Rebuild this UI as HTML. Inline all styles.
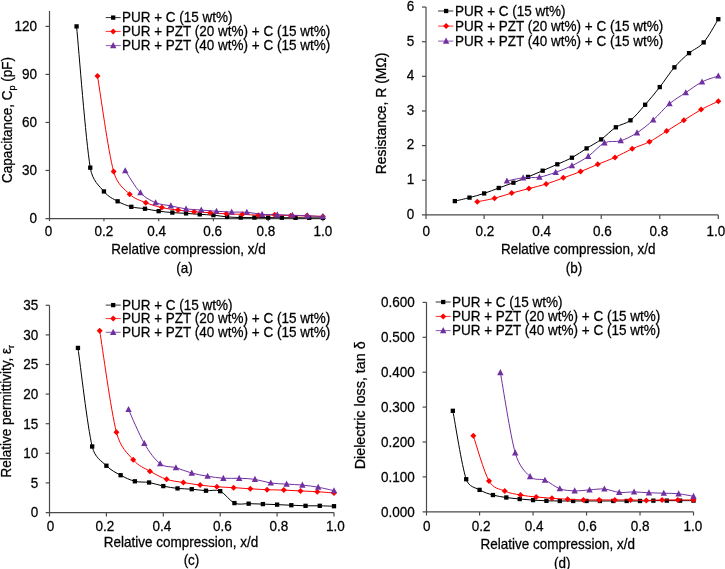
<!DOCTYPE html>
<html><head><meta charset="utf-8"><style>
html,body{margin:0;padding:0;background:#fff;width:725px;height:569px;overflow:hidden}
svg{display:block;will-change:transform;font-family:"Liberation Sans", sans-serif;font-size:13.5px;fill:#000}
text{stroke:#000;stroke-width:0.25px}
</style></head><body>
<svg width="725" height="569" viewBox="0 0 725 569">
<rect width="725" height="569" fill="#fff"/>
<g><path d="M49.50,11.00V221.20" stroke="#4a4a4a" stroke-width="1.2" fill="none"/>
<path d="M45.50,218.70H322.90" stroke="#4a4a4a" stroke-width="1.2" fill="none"/>
<text transform="translate(37.10,223.30) scale(1,1.060)" text-anchor="end">0</text>
<path d="M45.50,170.47H49.50" stroke="#4a4a4a" stroke-width="1.2"/>
<text transform="translate(37.10,175.28) scale(1,1.060)" text-anchor="end">30</text>
<path d="M45.50,122.45H49.50" stroke="#4a4a4a" stroke-width="1.2"/>
<text transform="translate(37.10,127.25) scale(1,1.060)" text-anchor="end">60</text>
<path d="M45.50,74.43H49.50" stroke="#4a4a4a" stroke-width="1.2"/>
<text transform="translate(37.10,79.23) scale(1,1.060)" text-anchor="end">90</text>
<path d="M45.50,26.40H49.50" stroke="#4a4a4a" stroke-width="1.2"/>
<text transform="translate(37.10,31.20) scale(1,1.060)" text-anchor="end">120</text>
<text transform="translate(48.50,235.50) scale(1,1.060)" text-anchor="middle">0</text>
<path d="M103.94,218.70V221.20" stroke="#4a4a4a" stroke-width="1.2"/>
<text transform="translate(103.94,235.50) scale(1,1.060)" text-anchor="middle">0.2</text>
<path d="M158.68,218.70V221.20" stroke="#4a4a4a" stroke-width="1.2"/>
<text transform="translate(156.68,235.50) scale(1,1.060)" text-anchor="middle">0.4</text>
<path d="M213.42,218.70V221.20" stroke="#4a4a4a" stroke-width="1.2"/>
<text transform="translate(212.72,235.50) scale(1,1.060)" text-anchor="middle">0.6</text>
<path d="M268.16,218.70V221.20" stroke="#4a4a4a" stroke-width="1.2"/>
<text transform="translate(265.96,235.50) scale(1,1.060)" text-anchor="middle">0.8</text>
<path d="M322.90,218.70V221.20" stroke="#4a4a4a" stroke-width="1.2"/>
<text transform="translate(322.90,235.50) scale(1,1.060)" text-anchor="middle">1.0</text>
<path d="M76.57,26.40 C78.85,49.95 85.69,140.17 90.26,167.67 C92.50,181.20 99.38,185.84 103.94,191.45 C108.50,197.05 113.06,198.73 117.62,201.29 C122.19,203.85 126.75,205.57 131.31,206.81 C135.87,208.05 140.43,208.01 145.00,208.73 C149.56,209.46 154.12,210.50 158.68,211.14 C163.24,211.78 167.80,212.20 172.37,212.58 C176.93,212.95 181.49,213.08 186.05,213.38 C190.61,213.67 195.17,214.04 199.74,214.34 C204.30,214.63 208.86,214.71 213.42,215.14 C217.98,215.57 222.54,216.50 227.11,216.90 C231.67,217.30 236.23,217.43 240.79,217.54 C245.35,217.65 249.91,217.53 254.47,217.54 C259.04,217.55 263.60,217.59 268.16,217.62 C272.72,217.65 277.28,217.67 281.84,217.70 C286.41,217.73 290.97,217.75 295.53,217.78 C300.09,217.81 304.65,217.85 309.21,217.86 C313.78,217.87 320.62,217.86 322.90,217.86" stroke="#000000" stroke-width="1.0" fill="none"/>
<rect x="74.42" y="24.25" width="4.30" height="4.30" fill="#000000"/>
<rect x="88.11" y="165.52" width="4.30" height="4.30" fill="#000000"/>
<rect x="101.79" y="189.30" width="4.30" height="4.30" fill="#000000"/>
<rect x="115.47" y="199.14" width="4.30" height="4.30" fill="#000000"/>
<rect x="129.16" y="204.66" width="4.30" height="4.30" fill="#000000"/>
<rect x="142.84" y="206.58" width="4.30" height="4.30" fill="#000000"/>
<rect x="156.53" y="208.99" width="4.30" height="4.30" fill="#000000"/>
<rect x="170.22" y="210.43" width="4.30" height="4.30" fill="#000000"/>
<rect x="183.90" y="211.23" width="4.30" height="4.30" fill="#000000"/>
<rect x="197.59" y="212.19" width="4.30" height="4.30" fill="#000000"/>
<rect x="211.27" y="212.99" width="4.30" height="4.30" fill="#000000"/>
<rect x="224.96" y="214.75" width="4.30" height="4.30" fill="#000000"/>
<rect x="238.64" y="215.39" width="4.30" height="4.30" fill="#000000"/>
<rect x="252.32" y="215.39" width="4.30" height="4.30" fill="#000000"/>
<rect x="266.01" y="215.47" width="4.30" height="4.30" fill="#000000"/>
<rect x="279.69" y="215.55" width="4.30" height="4.30" fill="#000000"/>
<rect x="293.38" y="215.63" width="4.30" height="4.30" fill="#000000"/>
<rect x="307.06" y="215.71" width="4.30" height="4.30" fill="#000000"/>
<rect x="320.75" y="215.71" width="4.30" height="4.30" fill="#000000"/>
<path d="M97.50,76.03 C100.18,91.93 108.23,151.75 113.60,171.44 C117.26,184.87 124.33,188.96 129.70,194.17 C135.07,199.37 140.43,200.41 145.80,202.65 C151.17,204.89 156.53,206.37 161.90,207.61 C167.27,208.85 172.63,209.42 178.00,210.10 C183.37,210.78 188.73,211.26 194.10,211.70 C199.47,212.14 204.83,212.38 210.20,212.74 C215.57,213.10 220.93,213.59 226.30,213.86 C231.67,214.12 237.03,214.12 242.40,214.34 C247.77,214.55 253.13,215.06 258.50,215.14 C263.87,215.22 269.23,214.72 274.60,214.82 C279.97,214.91 285.33,215.53 290.70,215.70 C296.07,215.87 301.43,215.73 306.80,215.86 C312.17,215.99 320.22,216.39 322.90,216.50" stroke="#FF0000" stroke-width="1.0" fill="none"/>
<path d="M97.50,73.03L100.50,76.03L97.50,79.03L94.50,76.03Z" fill="#FF0000"/>
<path d="M113.60,168.44L116.60,171.44L113.60,174.44L110.60,171.44Z" fill="#FF0000"/>
<path d="M129.70,191.17L132.70,194.17L129.70,197.17L126.70,194.17Z" fill="#FF0000"/>
<path d="M145.80,199.65L148.80,202.65L145.80,205.65L142.80,202.65Z" fill="#FF0000"/>
<path d="M161.90,204.61L164.90,207.61L161.90,210.61L158.90,207.61Z" fill="#FF0000"/>
<path d="M178.00,207.10L181.00,210.10L178.00,213.10L175.00,210.10Z" fill="#FF0000"/>
<path d="M194.10,208.70L197.10,211.70L194.10,214.70L191.10,211.70Z" fill="#FF0000"/>
<path d="M210.20,209.74L213.20,212.74L210.20,215.74L207.20,212.74Z" fill="#FF0000"/>
<path d="M226.30,210.86L229.30,213.86L226.30,216.86L223.30,213.86Z" fill="#FF0000"/>
<path d="M242.40,211.34L245.40,214.34L242.40,217.34L239.40,214.34Z" fill="#FF0000"/>
<path d="M258.50,212.14L261.50,215.14L258.50,218.14L255.50,215.14Z" fill="#FF0000"/>
<path d="M274.60,211.82L277.60,214.82L274.60,217.82L271.60,214.82Z" fill="#FF0000"/>
<path d="M290.70,212.70L293.70,215.70L290.70,218.70L287.70,215.70Z" fill="#FF0000"/>
<path d="M306.80,212.86L309.80,215.86L306.80,218.86L303.80,215.86Z" fill="#FF0000"/>
<path d="M322.90,213.50L325.90,216.50L322.90,219.50L319.90,216.50Z" fill="#FF0000"/>
<path d="M125.23,170.64 C127.76,174.32 135.36,187.39 140.43,192.73 C145.50,198.06 150.57,200.46 155.64,202.65 C160.71,204.84 165.78,204.81 170.84,205.85 C175.91,206.89 180.98,208.20 186.05,208.90 C191.12,209.59 196.19,209.62 201.26,210.02 C206.32,210.42 211.39,210.95 216.46,211.30 C221.53,211.64 226.60,211.94 231.67,212.10 C236.74,212.26 241.80,211.88 246.87,212.26 C251.94,212.63 257.01,213.91 262.08,214.34 C267.15,214.76 272.21,214.68 277.28,214.82 C282.35,214.95 287.42,214.96 292.49,215.14 C297.56,215.31 302.63,215.63 307.69,215.86 C312.76,216.09 320.37,216.39 322.90,216.50" stroke="#7030A0" stroke-width="1.0" fill="none"/>
<path d="M125.23,167.14L128.43,173.24L122.03,173.24Z" fill="#7030A0"/>
<path d="M140.43,189.23L143.63,195.33L137.23,195.33Z" fill="#7030A0"/>
<path d="M155.64,199.15L158.84,205.25L152.44,205.25Z" fill="#7030A0"/>
<path d="M170.84,202.35L174.04,208.45L167.64,208.45Z" fill="#7030A0"/>
<path d="M186.05,205.40L189.25,211.50L182.85,211.50Z" fill="#7030A0"/>
<path d="M201.26,206.52L204.46,212.62L198.06,212.62Z" fill="#7030A0"/>
<path d="M216.46,207.80L219.66,213.90L213.26,213.90Z" fill="#7030A0"/>
<path d="M231.67,208.60L234.87,214.70L228.47,214.70Z" fill="#7030A0"/>
<path d="M246.87,208.76L250.07,214.86L243.67,214.86Z" fill="#7030A0"/>
<path d="M262.08,210.84L265.28,216.94L258.88,216.94Z" fill="#7030A0"/>
<path d="M277.28,211.32L280.48,217.42L274.08,217.42Z" fill="#7030A0"/>
<path d="M292.49,211.64L295.69,217.74L289.29,217.74Z" fill="#7030A0"/>
<path d="M307.69,212.36L310.89,218.46L304.49,218.46Z" fill="#7030A0"/>
<path d="M322.90,213.00L326.10,219.10L319.70,219.10Z" fill="#7030A0"/>
<path d="M105.70,17.60H120.70" stroke="#000000" stroke-width="1.0" opacity="0.8"/>
<rect x="111.05" y="15.45" width="4.30" height="4.30" fill="#000000"/>
<text transform="translate(122.00,22.20) scale(1,1.060)" text-anchor="start">PUR + C (15 wt%)</text>
<path d="M105.70,31.40H120.70" stroke="#FF0000" stroke-width="1.0" opacity="0.8"/>
<path d="M113.20,28.40L116.20,31.40L113.20,34.40L110.20,31.40Z" fill="#FF0000"/>
<text transform="translate(122.00,36.00) scale(1,1.060)" text-anchor="start">PUR + PZT (20 wt%) + C (15 wt%)</text>
<path d="M105.70,45.60H120.70" stroke="#7030A0" stroke-width="1.0" opacity="0.8"/>
<path d="M113.20,42.10L116.40,48.20L110.00,48.20Z" fill="#7030A0"/>
<text transform="translate(122.00,50.20) scale(1,1.060)" text-anchor="start">PUR + PZT (40 wt%) + C (15 wt%)</text>
<text transform="translate(11.60,120.00) rotate(-90) scale(1.000,1.060)" text-anchor="middle"><tspan>Capacitance, C</tspan><tspan font-size="9" dy="3">p</tspan><tspan dy="-3"> (pF)</tspan></text>
<text transform="translate(188.50,254.10) scale(1,1.060)" text-anchor="middle">Relative compression, x/d</text>
<text transform="translate(184.50,272.50) scale(1,1.060)" text-anchor="middle">(a)</text></g>
<g><path d="M426.00,7.07V218.90" stroke="#4a4a4a" stroke-width="1.2" fill="none"/>
<path d="M422.00,214.90H718.30" stroke="#4a4a4a" stroke-width="1.2" fill="none"/>
<text transform="translate(414.30,218.70) scale(1,1.060)" text-anchor="end">0</text>
<path d="M422.00,180.26H426.00" stroke="#4a4a4a" stroke-width="1.2"/>
<text transform="translate(414.30,184.06) scale(1,1.060)" text-anchor="end">1</text>
<path d="M422.00,145.62H426.00" stroke="#4a4a4a" stroke-width="1.2"/>
<text transform="translate(414.30,149.42) scale(1,1.060)" text-anchor="end">2</text>
<path d="M422.00,110.98H426.00" stroke="#4a4a4a" stroke-width="1.2"/>
<text transform="translate(414.30,114.78) scale(1,1.060)" text-anchor="end">3</text>
<path d="M422.00,76.35H426.00" stroke="#4a4a4a" stroke-width="1.2"/>
<text transform="translate(414.30,80.15) scale(1,1.060)" text-anchor="end">4</text>
<path d="M422.00,41.71H426.00" stroke="#4a4a4a" stroke-width="1.2"/>
<text transform="translate(414.30,45.51) scale(1,1.060)" text-anchor="end">5</text>
<path d="M422.00,7.07H426.00" stroke="#4a4a4a" stroke-width="1.2"/>
<text transform="translate(414.30,10.87) scale(1,1.060)" text-anchor="end">6</text>
<text transform="translate(426.30,235.50) scale(1,1.060)" text-anchor="middle">0</text>
<path d="M484.14,214.90V218.90" stroke="#4a4a4a" stroke-width="1.2"/>
<text transform="translate(484.84,235.50) scale(1,1.060)" text-anchor="middle">0.2</text>
<path d="M542.68,214.90V218.90" stroke="#4a4a4a" stroke-width="1.2"/>
<text transform="translate(541.68,235.50) scale(1,1.060)" text-anchor="middle">0.4</text>
<path d="M601.22,214.90V218.90" stroke="#4a4a4a" stroke-width="1.2"/>
<text transform="translate(602.32,235.50) scale(1,1.060)" text-anchor="middle">0.6</text>
<path d="M659.76,214.90V218.90" stroke="#4a4a4a" stroke-width="1.2"/>
<text transform="translate(658.86,235.50) scale(1,1.060)" text-anchor="middle">0.8</text>
<path d="M718.30,214.90V218.90" stroke="#4a4a4a" stroke-width="1.2"/>
<text transform="translate(716.00,235.50) scale(1,1.060)" text-anchor="middle">1.0</text>
<path d="M454.87,201.11 C457.31,200.53 464.63,198.90 469.50,197.62 C474.38,196.33 479.26,195.03 484.14,193.42 C489.02,191.82 493.90,189.78 498.77,187.99 C503.65,186.20 508.53,184.53 513.41,182.69 C518.29,180.84 523.17,178.90 528.04,176.90 C532.92,174.90 537.80,172.80 542.68,170.70 C547.56,168.60 552.44,166.46 557.32,164.29 C562.19,162.13 567.07,160.36 571.95,157.71 C576.83,155.06 581.71,151.45 586.59,148.39 C591.46,145.34 596.34,142.91 601.22,139.39 C606.10,135.87 610.98,130.44 615.86,127.27 C620.73,124.09 625.61,124.09 630.49,120.34 C635.37,116.58 640.25,110.29 645.12,104.75 C650.00,99.21 654.88,93.32 659.76,87.08 C664.64,80.85 669.52,73.00 674.39,67.34 C679.27,61.68 684.15,57.30 689.03,53.14 C693.91,48.98 698.79,48.06 703.66,42.40 C708.54,36.74 715.86,23.06 718.30,19.19" stroke="#000000" stroke-width="1.0" fill="none"/>
<rect x="452.72" y="198.96" width="4.30" height="4.30" fill="#000000"/>
<rect x="467.36" y="195.47" width="4.30" height="4.30" fill="#000000"/>
<rect x="481.99" y="191.27" width="4.30" height="4.30" fill="#000000"/>
<rect x="496.62" y="185.84" width="4.30" height="4.30" fill="#000000"/>
<rect x="511.26" y="180.54" width="4.30" height="4.30" fill="#000000"/>
<rect x="525.89" y="174.75" width="4.30" height="4.30" fill="#000000"/>
<rect x="540.53" y="168.55" width="4.30" height="4.30" fill="#000000"/>
<rect x="555.17" y="162.14" width="4.30" height="4.30" fill="#000000"/>
<rect x="569.80" y="155.56" width="4.30" height="4.30" fill="#000000"/>
<rect x="584.44" y="146.24" width="4.30" height="4.30" fill="#000000"/>
<rect x="599.07" y="137.24" width="4.30" height="4.30" fill="#000000"/>
<rect x="613.71" y="125.12" width="4.30" height="4.30" fill="#000000"/>
<rect x="628.34" y="118.19" width="4.30" height="4.30" fill="#000000"/>
<rect x="642.98" y="102.60" width="4.30" height="4.30" fill="#000000"/>
<rect x="657.61" y="84.93" width="4.30" height="4.30" fill="#000000"/>
<rect x="672.25" y="65.19" width="4.30" height="4.30" fill="#000000"/>
<rect x="686.88" y="50.99" width="4.30" height="4.30" fill="#000000"/>
<rect x="701.51" y="40.25" width="4.30" height="4.30" fill="#000000"/>
<rect x="716.15" y="17.04" width="4.30" height="4.30" fill="#000000"/>
<path d="M477.25,201.74 C480.12,201.16 488.73,199.72 494.47,198.27 C500.21,196.83 505.95,194.69 511.69,193.08 C517.43,191.46 523.17,190.08 528.91,188.57 C534.65,187.07 540.38,185.86 546.12,184.07 C551.86,182.28 557.60,179.92 563.34,177.84 C569.08,175.76 574.82,173.85 580.56,171.60 C586.30,169.35 592.04,166.69 597.78,164.33 C603.52,161.96 609.25,160.00 614.99,157.40 C620.73,154.80 626.47,151.34 632.21,148.74 C637.95,146.14 643.69,144.76 649.43,141.81 C655.17,138.87 660.91,134.65 666.65,131.08 C672.39,127.50 678.13,123.92 683.86,120.34 C689.60,116.76 695.34,112.77 701.08,109.60 C706.82,106.42 715.43,102.67 718.30,101.29" stroke="#FF0000" stroke-width="1.0" fill="none"/>
<path d="M477.25,198.74L480.25,201.74L477.25,204.74L474.25,201.74Z" fill="#FF0000"/>
<path d="M494.47,195.27L497.47,198.27L494.47,201.27L491.47,198.27Z" fill="#FF0000"/>
<path d="M511.69,190.08L514.69,193.08L511.69,196.08L508.69,193.08Z" fill="#FF0000"/>
<path d="M528.91,185.57L531.91,188.57L528.91,191.57L525.91,188.57Z" fill="#FF0000"/>
<path d="M546.12,181.07L549.12,184.07L546.12,187.07L543.12,184.07Z" fill="#FF0000"/>
<path d="M563.34,174.84L566.34,177.84L563.34,180.84L560.34,177.84Z" fill="#FF0000"/>
<path d="M580.56,168.60L583.56,171.60L580.56,174.60L577.56,171.60Z" fill="#FF0000"/>
<path d="M597.78,161.33L600.78,164.33L597.78,167.33L594.78,164.33Z" fill="#FF0000"/>
<path d="M614.99,154.40L617.99,157.40L614.99,160.40L611.99,157.40Z" fill="#FF0000"/>
<path d="M632.21,145.74L635.21,148.74L632.21,151.74L629.21,148.74Z" fill="#FF0000"/>
<path d="M649.43,138.81L652.43,141.81L649.43,144.81L646.43,141.81Z" fill="#FF0000"/>
<path d="M666.65,128.08L669.65,131.08L666.65,134.08L663.65,131.08Z" fill="#FF0000"/>
<path d="M683.86,117.34L686.86,120.34L683.86,123.34L680.86,120.34Z" fill="#FF0000"/>
<path d="M701.08,106.60L704.08,109.60L701.08,112.60L698.08,109.60Z" fill="#FF0000"/>
<path d="M718.30,98.29L721.30,101.29L718.30,104.29L715.30,101.29Z" fill="#FF0000"/>
<path d="M506.91,180.95 C509.62,180.43 517.75,178.47 523.17,177.84 C528.59,177.20 534.01,178.07 539.43,177.14 C544.85,176.22 550.27,174.20 555.69,172.29 C561.11,170.39 566.53,168.37 571.95,165.71 C577.37,163.06 582.79,160.17 588.21,156.36 C593.63,152.55 599.05,145.45 604.47,142.85 C609.89,140.25 615.31,142.45 620.73,140.77 C626.15,139.10 631.57,136.27 636.99,132.81 C642.41,129.34 647.84,124.84 653.26,119.99 C658.68,115.14 664.10,108.27 669.52,103.71 C674.94,99.15 680.36,96.26 685.78,92.63 C691.20,88.99 696.62,84.66 702.04,81.89 C707.46,79.12 715.59,76.98 718.30,76.00" stroke="#7030A0" stroke-width="1.0" fill="none"/>
<path d="M506.91,177.45L510.11,183.55L503.71,183.55Z" fill="#7030A0"/>
<path d="M523.17,174.34L526.37,180.44L519.97,180.44Z" fill="#7030A0"/>
<path d="M539.43,173.64L542.63,179.74L536.23,179.74Z" fill="#7030A0"/>
<path d="M555.69,168.79L558.89,174.89L552.49,174.89Z" fill="#7030A0"/>
<path d="M571.95,162.21L575.15,168.31L568.75,168.31Z" fill="#7030A0"/>
<path d="M588.21,152.86L591.41,158.96L585.01,158.96Z" fill="#7030A0"/>
<path d="M604.47,139.35L607.67,145.45L601.27,145.45Z" fill="#7030A0"/>
<path d="M620.73,137.27L623.93,143.37L617.53,143.37Z" fill="#7030A0"/>
<path d="M636.99,129.31L640.19,135.41L633.79,135.41Z" fill="#7030A0"/>
<path d="M653.26,116.49L656.46,122.59L650.06,122.59Z" fill="#7030A0"/>
<path d="M669.52,100.21L672.72,106.31L666.32,106.31Z" fill="#7030A0"/>
<path d="M685.78,89.13L688.98,95.23L682.58,95.23Z" fill="#7030A0"/>
<path d="M702.04,78.39L705.24,84.49L698.84,84.49Z" fill="#7030A0"/>
<path d="M718.30,72.50L721.50,78.60L715.10,78.60Z" fill="#7030A0"/>
<path d="M438.10,11.00H453.30" stroke="#000000" stroke-width="1.0" opacity="0.8"/>
<rect x="443.95" y="8.85" width="4.30" height="4.30" fill="#000000"/>
<text transform="translate(454.90,15.60) scale(1,1.060)" text-anchor="start">PUR + C (15 wt%)</text>
<path d="M438.10,26.10H453.30" stroke="#FF0000" stroke-width="1.0" opacity="0.8"/>
<path d="M446.10,23.10L449.10,26.10L446.10,29.10L443.10,26.10Z" fill="#FF0000"/>
<text transform="translate(454.90,30.70) scale(1,1.060)" text-anchor="start">PUR + PZT (20 wt%) + C (15 wt%)</text>
<path d="M438.10,41.10H453.30" stroke="#7030A0" stroke-width="1.0" opacity="0.8"/>
<path d="M446.10,37.60L449.30,43.70L442.90,43.70Z" fill="#7030A0"/>
<text transform="translate(454.90,45.70) scale(1,1.060)" text-anchor="start">PUR + PZT (40 wt%) + C (15 wt%)</text>
<text transform="translate(386.20,113.40) rotate(-90) scale(1.030,1.060)" text-anchor="middle"><tspan>Resistance, R (MΩ)</tspan></text>
<text transform="translate(578.20,253.60) scale(1,1.060)" text-anchor="middle">Relative compression, x/d</text>
<text transform="translate(573.90,273.30) scale(1,1.060)" text-anchor="middle">(b)</text></g>
<g><path d="M49.50,305.30V516.50" stroke="#4a4a4a" stroke-width="1.2" fill="none"/>
<path d="M45.70,512.60H334.00" stroke="#4a4a4a" stroke-width="1.2" fill="none"/>
<text transform="translate(38.20,517.30) scale(1,1.060)" text-anchor="end">0</text>
<path d="M45.70,482.90H49.50" stroke="#4a4a4a" stroke-width="1.2"/>
<text transform="translate(38.20,487.70) scale(1,1.060)" text-anchor="end">5</text>
<path d="M45.70,453.30H49.50" stroke="#4a4a4a" stroke-width="1.2"/>
<text transform="translate(38.20,458.10) scale(1,1.060)" text-anchor="end">10</text>
<path d="M45.70,423.70H49.50" stroke="#4a4a4a" stroke-width="1.2"/>
<text transform="translate(38.20,428.50) scale(1,1.060)" text-anchor="end">15</text>
<path d="M45.70,394.10H49.50" stroke="#4a4a4a" stroke-width="1.2"/>
<text transform="translate(38.20,398.90) scale(1,1.060)" text-anchor="end">20</text>
<path d="M45.70,364.50H49.50" stroke="#4a4a4a" stroke-width="1.2"/>
<text transform="translate(38.20,369.30) scale(1,1.060)" text-anchor="end">25</text>
<path d="M45.70,334.90H49.50" stroke="#4a4a4a" stroke-width="1.2"/>
<text transform="translate(38.20,339.70) scale(1,1.060)" text-anchor="end">30</text>
<path d="M45.70,305.30H49.50" stroke="#4a4a4a" stroke-width="1.2"/>
<text transform="translate(38.20,310.10) scale(1,1.060)" text-anchor="end">35</text>
<text transform="translate(50.60,530.60) scale(1,1.060)" text-anchor="middle">0</text>
<path d="M106.40,512.60V516.50" stroke="#4a4a4a" stroke-width="1.2"/>
<text transform="translate(104.80,530.60) scale(1,1.060)" text-anchor="middle">0.2</text>
<path d="M163.30,512.60V516.50" stroke="#4a4a4a" stroke-width="1.2"/>
<text transform="translate(161.80,530.60) scale(1,1.060)" text-anchor="middle">0.4</text>
<path d="M220.20,512.60V516.50" stroke="#4a4a4a" stroke-width="1.2"/>
<text transform="translate(222.40,530.60) scale(1,1.060)" text-anchor="middle">0.6</text>
<path d="M277.10,512.60V516.50" stroke="#4a4a4a" stroke-width="1.2"/>
<text transform="translate(278.80,530.60) scale(1,1.060)" text-anchor="middle">0.8</text>
<path d="M334.00,512.60V516.50" stroke="#4a4a4a" stroke-width="1.2"/>
<text transform="translate(335.50,530.60) scale(1,1.060)" text-anchor="middle">1.0</text>
<path d="M77.95,347.92 C80.32,364.35 87.43,426.86 92.18,446.49 C94.98,458.12 101.66,460.95 106.40,465.73 C111.14,470.52 115.88,472.61 120.62,475.20 C125.37,477.80 130.11,480.09 134.85,481.30 C139.59,482.52 144.33,481.69 149.07,482.49 C153.82,483.28 158.56,485.11 163.30,486.10 C168.04,487.08 172.78,487.89 177.53,488.41 C182.27,488.92 187.01,488.79 191.75,489.18 C196.49,489.56 201.23,490.38 205.98,490.71 C210.72,491.05 215.46,489.13 220.20,491.19 C224.94,493.25 229.68,501.01 234.43,503.09 C239.17,505.17 243.91,503.51 248.65,503.68 C253.39,503.85 258.13,503.94 262.88,504.09 C267.62,504.25 272.36,504.44 277.10,504.63 C281.84,504.81 286.58,505.02 291.32,505.22 C296.07,505.42 300.81,505.71 305.55,505.81 C310.29,505.91 315.03,505.74 319.78,505.81 C324.52,505.88 331.63,506.16 334.00,506.22" stroke="#000000" stroke-width="1.0" fill="none"/>
<rect x="75.80" y="345.77" width="4.30" height="4.30" fill="#000000"/>
<rect x="90.03" y="444.34" width="4.30" height="4.30" fill="#000000"/>
<rect x="104.25" y="463.58" width="4.30" height="4.30" fill="#000000"/>
<rect x="118.47" y="473.05" width="4.30" height="4.30" fill="#000000"/>
<rect x="132.70" y="479.15" width="4.30" height="4.30" fill="#000000"/>
<rect x="146.92" y="480.34" width="4.30" height="4.30" fill="#000000"/>
<rect x="161.15" y="483.95" width="4.30" height="4.30" fill="#000000"/>
<rect x="175.38" y="486.26" width="4.30" height="4.30" fill="#000000"/>
<rect x="189.60" y="487.03" width="4.30" height="4.30" fill="#000000"/>
<rect x="203.83" y="488.56" width="4.30" height="4.30" fill="#000000"/>
<rect x="218.05" y="489.04" width="4.30" height="4.30" fill="#000000"/>
<rect x="232.28" y="500.94" width="4.30" height="4.30" fill="#000000"/>
<rect x="246.50" y="501.53" width="4.30" height="4.30" fill="#000000"/>
<rect x="260.73" y="501.94" width="4.30" height="4.30" fill="#000000"/>
<rect x="274.95" y="502.48" width="4.30" height="4.30" fill="#000000"/>
<rect x="289.18" y="503.07" width="4.30" height="4.30" fill="#000000"/>
<rect x="303.40" y="503.66" width="4.30" height="4.30" fill="#000000"/>
<rect x="317.63" y="503.66" width="4.30" height="4.30" fill="#000000"/>
<rect x="331.85" y="504.07" width="4.30" height="4.30" fill="#000000"/>
<path d="M99.71,330.76 C102.50,347.68 110.86,410.77 116.44,432.28 C120.48,447.88 127.60,453.33 133.18,459.81 C138.75,466.29 144.33,467.92 149.91,471.18 C155.49,474.43 161.07,477.46 166.65,479.35 C172.23,481.23 177.80,481.53 183.38,482.49 C188.96,483.44 194.54,484.37 200.12,485.09 C205.70,485.81 211.27,486.38 216.85,486.81 C222.43,487.23 228.01,487.30 233.59,487.64 C239.17,487.97 244.75,488.47 250.32,488.82 C255.90,489.17 261.48,489.49 267.06,489.71 C272.64,489.93 278.22,489.93 283.79,490.12 C289.37,490.32 294.95,490.63 300.53,490.89 C306.11,491.16 311.69,491.38 317.26,491.72 C322.84,492.07 331.21,492.76 334.00,492.96" stroke="#FF0000" stroke-width="1.0" fill="none"/>
<path d="M99.71,327.76L102.71,330.76L99.71,333.76L96.71,330.76Z" fill="#FF0000"/>
<path d="M116.44,429.28L119.44,432.28L116.44,435.28L113.44,432.28Z" fill="#FF0000"/>
<path d="M133.18,456.81L136.18,459.81L133.18,462.81L130.18,459.81Z" fill="#FF0000"/>
<path d="M149.91,468.18L152.91,471.18L149.91,474.18L146.91,471.18Z" fill="#FF0000"/>
<path d="M166.65,476.35L169.65,479.35L166.65,482.35L163.65,479.35Z" fill="#FF0000"/>
<path d="M183.38,479.49L186.38,482.49L183.38,485.49L180.38,482.49Z" fill="#FF0000"/>
<path d="M200.12,482.09L203.12,485.09L200.12,488.09L197.12,485.09Z" fill="#FF0000"/>
<path d="M216.85,483.81L219.85,486.81L216.85,489.81L213.85,486.81Z" fill="#FF0000"/>
<path d="M233.59,484.64L236.59,487.64L233.59,490.64L230.59,487.64Z" fill="#FF0000"/>
<path d="M250.32,485.82L253.32,488.82L250.32,491.82L247.32,488.82Z" fill="#FF0000"/>
<path d="M267.06,486.71L270.06,489.71L267.06,492.71L264.06,489.71Z" fill="#FF0000"/>
<path d="M283.79,487.12L286.79,490.12L283.79,493.12L280.79,490.12Z" fill="#FF0000"/>
<path d="M300.53,487.89L303.53,490.89L300.53,493.89L297.53,490.89Z" fill="#FF0000"/>
<path d="M317.26,488.72L320.26,491.72L317.26,494.72L314.26,491.72Z" fill="#FF0000"/>
<path d="M334.00,489.96L337.00,492.96L334.00,495.96L331.00,492.96Z" fill="#FF0000"/>
<path d="M128.53,409.49 C131.16,415.16 139.06,434.43 144.33,443.47 C149.60,452.51 154.87,459.68 160.14,463.72 C165.41,467.75 170.68,466.13 175.94,467.69 C181.21,469.24 186.48,471.65 191.75,473.07 C197.02,474.49 202.29,475.34 207.56,476.21 C212.82,477.08 218.09,477.94 223.36,478.28 C228.63,478.63 233.90,478.10 239.17,478.28 C244.44,478.46 249.70,478.56 254.97,479.35 C260.24,480.14 265.51,482.23 270.78,483.02 C276.05,483.81 281.31,483.74 286.58,484.08 C291.85,484.43 297.12,484.57 302.39,485.09 C307.66,485.61 312.93,486.28 318.19,487.22 C323.46,488.16 331.37,490.13 334.00,490.71" stroke="#7030A0" stroke-width="1.0" fill="none"/>
<path d="M128.53,405.99L131.73,412.09L125.33,412.09Z" fill="#7030A0"/>
<path d="M144.33,439.97L147.53,446.07L141.13,446.07Z" fill="#7030A0"/>
<path d="M160.14,460.22L163.34,466.32L156.94,466.32Z" fill="#7030A0"/>
<path d="M175.94,464.19L179.14,470.29L172.74,470.29Z" fill="#7030A0"/>
<path d="M191.75,469.57L194.95,475.67L188.55,475.67Z" fill="#7030A0"/>
<path d="M207.56,472.71L210.76,478.81L204.36,478.81Z" fill="#7030A0"/>
<path d="M223.36,474.78L226.56,480.88L220.16,480.88Z" fill="#7030A0"/>
<path d="M239.17,474.78L242.37,480.88L235.97,480.88Z" fill="#7030A0"/>
<path d="M254.97,475.85L258.17,481.95L251.77,481.95Z" fill="#7030A0"/>
<path d="M270.78,479.52L273.98,485.62L267.58,485.62Z" fill="#7030A0"/>
<path d="M286.58,480.58L289.78,486.68L283.38,486.68Z" fill="#7030A0"/>
<path d="M302.39,481.59L305.59,487.69L299.19,487.69Z" fill="#7030A0"/>
<path d="M318.19,483.72L321.39,489.82L314.99,489.82Z" fill="#7030A0"/>
<path d="M334.00,487.21L337.20,493.31L330.80,493.31Z" fill="#7030A0"/>
<path d="M105.70,305.10H120.70" stroke="#000000" stroke-width="1.0" opacity="0.8"/>
<rect x="111.05" y="302.95" width="4.30" height="4.30" fill="#000000"/>
<text transform="translate(122.00,309.70) scale(1,1.060)" text-anchor="start">PUR + C (15 wt%)</text>
<path d="M105.70,318.60H120.70" stroke="#FF0000" stroke-width="1.0" opacity="0.8"/>
<path d="M113.20,315.60L116.20,318.60L113.20,321.60L110.20,318.60Z" fill="#FF0000"/>
<text transform="translate(122.00,323.20) scale(1,1.060)" text-anchor="start">PUR + PZT (20 wt%) + C (15 wt%)</text>
<path d="M105.70,332.30H120.70" stroke="#7030A0" stroke-width="1.0" opacity="0.8"/>
<path d="M113.20,328.80L116.40,334.90L110.00,334.90Z" fill="#7030A0"/>
<text transform="translate(122.00,336.90) scale(1,1.060)" text-anchor="start">PUR + PZT (40 wt%) + C (15 wt%)</text>
<text transform="translate(11.20,411.30) rotate(-90) scale(1.000,1.060)" text-anchor="middle"><tspan>Relative permittivity, </tspan><tspan>ε</tspan><tspan font-size="9" dy="3">r</tspan></text>
<text transform="translate(181.00,547.00) scale(1,1.060)" text-anchor="middle">Relative compression, x/d</text>
<text transform="translate(191.50,565.20) scale(1,1.060)" text-anchor="middle">(c)</text></g>
<g><path d="M426.50,302.40V515.50" stroke="#4a4a4a" stroke-width="1.2" fill="none"/>
<path d="M422.60,511.80H693.50" stroke="#4a4a4a" stroke-width="1.2" fill="none"/>
<text transform="translate(414.80,516.60) scale(1,1.060)" text-anchor="end">0.000</text>
<path d="M422.60,476.90H426.50" stroke="#4a4a4a" stroke-width="1.2"/>
<text transform="translate(414.80,481.70) scale(1,1.060)" text-anchor="end">0.100</text>
<path d="M422.60,442.00H426.50" stroke="#4a4a4a" stroke-width="1.2"/>
<text transform="translate(414.80,446.80) scale(1,1.060)" text-anchor="end">0.200</text>
<path d="M422.60,407.10H426.50" stroke="#4a4a4a" stroke-width="1.2"/>
<text transform="translate(414.80,411.90) scale(1,1.060)" text-anchor="end">0.300</text>
<path d="M422.60,372.20H426.50" stroke="#4a4a4a" stroke-width="1.2"/>
<text transform="translate(414.80,377.00) scale(1,1.060)" text-anchor="end">0.400</text>
<path d="M422.60,337.30H426.50" stroke="#4a4a4a" stroke-width="1.2"/>
<text transform="translate(414.80,342.10) scale(1,1.060)" text-anchor="end">0.500</text>
<path d="M422.60,302.40H426.50" stroke="#4a4a4a" stroke-width="1.2"/>
<text transform="translate(414.80,307.20) scale(1,1.060)" text-anchor="end">0.600</text>
<text transform="translate(426.70,530.70) scale(1,1.060)" text-anchor="middle">0</text>
<path d="M479.58,511.80V515.50" stroke="#4a4a4a" stroke-width="1.2"/>
<text transform="translate(481.18,530.70) scale(1,1.060)" text-anchor="middle">0.2</text>
<path d="M533.06,511.80V515.50" stroke="#4a4a4a" stroke-width="1.2"/>
<text transform="translate(534.16,530.70) scale(1,1.060)" text-anchor="middle">0.4</text>
<path d="M586.54,511.80V515.50" stroke="#4a4a4a" stroke-width="1.2"/>
<text transform="translate(587.34,530.70) scale(1,1.060)" text-anchor="middle">0.6</text>
<path d="M640.02,511.80V515.50" stroke="#4a4a4a" stroke-width="1.2"/>
<text transform="translate(640.02,530.70) scale(1,1.060)" text-anchor="middle">0.8</text>
<path d="M693.50,511.80V515.50" stroke="#4a4a4a" stroke-width="1.2"/>
<text transform="translate(692.90,530.70) scale(1,1.060)" text-anchor="middle">1.0</text>
<path d="M452.84,410.80 C455.07,422.20 461.75,466.02 466.21,479.20 C468.95,487.31 475.12,487.24 479.58,489.88 C484.04,492.52 488.49,493.78 492.95,495.05 C497.41,496.32 501.86,496.83 506.32,497.49 C510.78,498.15 515.23,498.59 519.69,499.03 C524.15,499.46 528.60,499.81 533.06,500.11 C537.52,500.41 541.97,500.66 546.43,500.81 C550.89,500.95 555.34,500.95 559.80,500.98 C564.26,501.01 568.71,500.98 573.17,500.98 C577.63,500.98 582.08,500.98 586.54,500.98 C591.00,500.98 595.45,500.98 599.91,500.98 C604.37,500.98 608.82,500.98 613.28,500.98 C617.74,500.98 622.19,500.98 626.65,500.98 C631.11,500.98 635.56,501.04 640.02,500.98 C644.48,500.92 648.93,500.69 653.39,500.63 C657.85,500.57 662.30,500.63 666.76,500.63 C671.22,500.63 675.67,500.63 680.13,500.63 C684.59,500.63 691.27,500.63 693.50,500.63" stroke="#000000" stroke-width="1.0" fill="none"/>
<rect x="450.69" y="408.65" width="4.30" height="4.30" fill="#000000"/>
<rect x="464.06" y="477.05" width="4.30" height="4.30" fill="#000000"/>
<rect x="477.43" y="487.73" width="4.30" height="4.30" fill="#000000"/>
<rect x="490.80" y="492.90" width="4.30" height="4.30" fill="#000000"/>
<rect x="504.17" y="495.34" width="4.30" height="4.30" fill="#000000"/>
<rect x="517.54" y="496.88" width="4.30" height="4.30" fill="#000000"/>
<rect x="530.91" y="497.96" width="4.30" height="4.30" fill="#000000"/>
<rect x="544.28" y="498.66" width="4.30" height="4.30" fill="#000000"/>
<rect x="557.65" y="498.83" width="4.30" height="4.30" fill="#000000"/>
<rect x="571.02" y="498.83" width="4.30" height="4.30" fill="#000000"/>
<rect x="584.39" y="498.83" width="4.30" height="4.30" fill="#000000"/>
<rect x="597.76" y="498.83" width="4.30" height="4.30" fill="#000000"/>
<rect x="611.13" y="498.83" width="4.30" height="4.30" fill="#000000"/>
<rect x="624.50" y="498.83" width="4.30" height="4.30" fill="#000000"/>
<rect x="637.87" y="498.83" width="4.30" height="4.30" fill="#000000"/>
<rect x="651.24" y="498.48" width="4.30" height="4.30" fill="#000000"/>
<rect x="664.61" y="498.48" width="4.30" height="4.30" fill="#000000"/>
<rect x="677.98" y="498.48" width="4.30" height="4.30" fill="#000000"/>
<rect x="691.35" y="498.48" width="4.30" height="4.30" fill="#000000"/>
<path d="M473.29,435.72 C475.91,443.25 483.77,471.69 489.02,480.91 C493.64,489.05 499.50,488.71 504.75,491.07 C509.99,493.43 515.23,494.06 520.48,495.05 C525.72,496.04 530.96,496.46 536.21,497.00 C541.45,497.54 546.69,497.91 551.94,498.29 C557.18,498.68 562.42,499.03 567.66,499.31 C572.91,499.58 578.15,499.83 583.39,499.93 C588.64,500.04 593.88,499.93 599.12,499.93 C604.37,499.93 609.61,499.93 614.85,499.93 C620.10,499.93 625.34,499.84 630.58,499.93 C635.83,500.03 641.07,500.49 646.31,500.49 C651.55,500.49 656.80,500.03 662.04,499.93 C667.28,499.84 672.53,499.93 677.77,499.93 C683.01,499.93 690.88,499.93 693.50,499.93" stroke="#FF0000" stroke-width="1.0" fill="none"/>
<path d="M473.29,432.72L476.29,435.72L473.29,438.72L470.29,435.72Z" fill="#FF0000"/>
<path d="M489.02,477.91L492.02,480.91L489.02,483.91L486.02,480.91Z" fill="#FF0000"/>
<path d="M504.75,488.07L507.75,491.07L504.75,494.07L501.75,491.07Z" fill="#FF0000"/>
<path d="M520.48,492.05L523.48,495.05L520.48,498.05L517.48,495.05Z" fill="#FF0000"/>
<path d="M536.21,494.00L539.21,497.00L536.21,500.00L533.21,497.00Z" fill="#FF0000"/>
<path d="M551.94,495.29L554.94,498.29L551.94,501.29L548.94,498.29Z" fill="#FF0000"/>
<path d="M567.66,496.31L570.66,499.31L567.66,502.31L564.66,499.31Z" fill="#FF0000"/>
<path d="M583.39,496.93L586.39,499.93L583.39,502.93L580.39,499.93Z" fill="#FF0000"/>
<path d="M599.12,496.93L602.12,499.93L599.12,502.93L596.12,499.93Z" fill="#FF0000"/>
<path d="M614.85,496.93L617.85,499.93L614.85,502.93L611.85,499.93Z" fill="#FF0000"/>
<path d="M630.58,496.93L633.58,499.93L630.58,502.93L627.58,499.93Z" fill="#FF0000"/>
<path d="M646.31,497.49L649.31,500.49L646.31,503.49L643.31,500.49Z" fill="#FF0000"/>
<path d="M662.04,496.93L665.04,499.93L662.04,502.93L659.04,499.93Z" fill="#FF0000"/>
<path d="M677.77,496.93L680.77,499.93L677.77,502.93L674.77,499.93Z" fill="#FF0000"/>
<path d="M693.50,496.93L696.50,499.93L693.50,502.93L690.50,499.93Z" fill="#FF0000"/>
<path d="M500.38,372.55 C502.85,385.93 510.28,435.49 515.23,452.82 C519.08,466.28 525.14,471.98 530.09,476.55 C535.04,481.12 539.99,478.18 544.94,480.22 C549.90,482.25 554.85,486.99 559.80,488.77 C564.75,490.54 569.70,490.67 574.66,490.86 C579.61,491.05 584.56,490.19 589.51,489.88 C594.46,489.57 599.41,488.59 604.37,489.01 C609.32,489.43 614.27,491.91 619.22,492.40 C624.17,492.88 629.13,491.84 634.08,491.91 C639.03,491.98 643.98,492.60 648.93,492.81 C653.89,493.03 658.84,493.04 663.79,493.20 C668.74,493.36 673.69,493.27 678.64,493.79 C683.60,494.31 691.02,495.89 693.50,496.30" stroke="#7030A0" stroke-width="1.0" fill="none"/>
<path d="M500.38,369.05L503.58,375.15L497.18,375.15Z" fill="#7030A0"/>
<path d="M515.23,449.32L518.43,455.42L512.03,455.42Z" fill="#7030A0"/>
<path d="M530.09,473.05L533.29,479.15L526.89,479.15Z" fill="#7030A0"/>
<path d="M544.94,476.72L548.14,482.82L541.74,482.82Z" fill="#7030A0"/>
<path d="M559.80,485.27L563.00,491.37L556.60,491.37Z" fill="#7030A0"/>
<path d="M574.66,487.36L577.86,493.46L571.46,493.46Z" fill="#7030A0"/>
<path d="M589.51,486.38L592.71,492.48L586.31,492.48Z" fill="#7030A0"/>
<path d="M604.37,485.51L607.57,491.61L601.17,491.61Z" fill="#7030A0"/>
<path d="M619.22,488.90L622.42,495.00L616.02,495.00Z" fill="#7030A0"/>
<path d="M634.08,488.41L637.28,494.51L630.88,494.51Z" fill="#7030A0"/>
<path d="M648.93,489.31L652.13,495.41L645.73,495.41Z" fill="#7030A0"/>
<path d="M663.79,489.70L666.99,495.80L660.59,495.80Z" fill="#7030A0"/>
<path d="M678.64,490.29L681.84,496.39L675.44,496.39Z" fill="#7030A0"/>
<path d="M693.50,492.80L696.70,498.90L690.30,498.90Z" fill="#7030A0"/>
<path d="M435.70,302.00H450.70" stroke="#000000" stroke-width="1.0" opacity="0.8"/>
<rect x="441.05" y="299.85" width="4.30" height="4.30" fill="#000000"/>
<text transform="translate(452.00,306.60) scale(1,1.060)" text-anchor="start">PUR + C (15 wt%)</text>
<path d="M435.70,316.40H450.70" stroke="#FF0000" stroke-width="1.0" opacity="0.8"/>
<path d="M443.20,313.40L446.20,316.40L443.20,319.40L440.20,316.40Z" fill="#FF0000"/>
<text transform="translate(452.00,321.00) scale(1,1.060)" text-anchor="start">PUR + PZT (20 wt%) + C (15 wt%)</text>
<path d="M435.70,330.60H450.70" stroke="#7030A0" stroke-width="1.0" opacity="0.8"/>
<path d="M443.20,327.10L446.40,333.20L440.00,333.20Z" fill="#7030A0"/>
<text transform="translate(452.00,335.20) scale(1,1.060)" text-anchor="start">PUR + PZT (40 wt%) + C (15 wt%)</text>
<text transform="translate(365.30,405.30) rotate(-90) scale(1.060,1.060)" text-anchor="middle"><tspan>Dielectric loss, tan δ</tspan></text>
<text transform="translate(557.80,549.30) scale(1,1.060)" text-anchor="middle">Relative compression, x/d</text>
<text transform="translate(562.20,568.30) scale(1,1.060)" text-anchor="middle">(d)</text></g>
</svg></body></html>
